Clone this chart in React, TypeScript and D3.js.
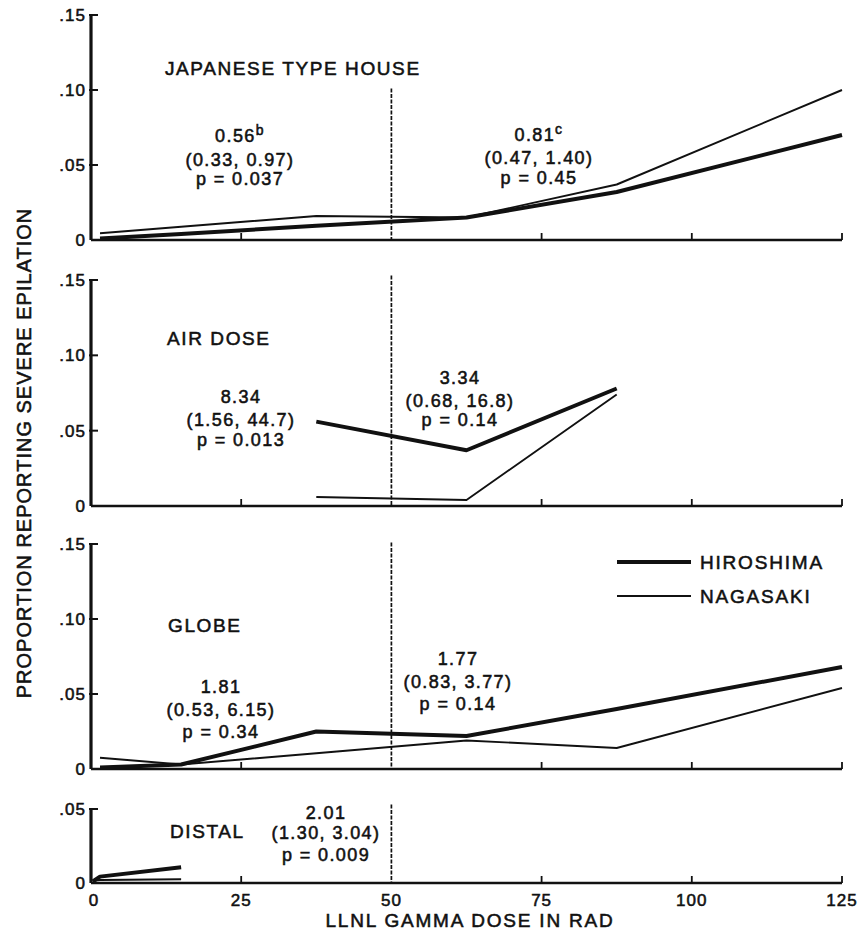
import { useEffect, useRef } from 'react';
import * as d3 from 'd3';

// dose midpoints (rad) used by the curves
const doses = [1.5, 15, 37.5, 62.5, 87.5, 125];
const airDoses = [37.5, 62.5, 87.5];
const distalDoses = [0.3, 1.5, 15];

// proportion reporting severe epilation
const houseHiroshima = [0.001, 0.004, 0.0095, 0.015, 0.032, 0.07];
const houseNagasaki = [0.0045, 0.0088, 0.016, 0.015, 0.037, 0.1];
const airHiroshima = [0.056, 0.037, 0.078];
const airNagasaki = [0.006, 0.004, 0.074];
const globeHiroshima = [0.001, 0.003, 0.025, 0.022, 0.04, 0.068];
const globeNagasaki = [0.0075, 0.003, 0.0105, 0.019, 0.014, 0.054];
const distalHiroshima = [0.001, 0.0043, 0.0106];
const distalNagasaki = [0.0015, 0.002, 0.0025];

const xTicks = [0, 25, 50, 75, 100, 125];
const yTicks = [0, 0.05, 0.1, 0.15];
const yTickLabels = ['0', '.05', '.10', '.15'];
const distalYTicks = [0, 0.05];
const distalYTickLabels = ['0', '.05'];
const cutDose = 50;

const FONT = '"Liberation Sans", Arial, Helvetica, sans-serif';
const INK = '#111';

const panels = [
  {
    title: 'JAPANESE TYPE HOUSE', titleX: 165, titleY: 75,
    xs: doses, hiro: houseHiroshima, naga: houseNagasaki,
    yMax: 0.15, top: 15, bottom: 240, dashTop: 0.101,
    ticks: yTicks, tickLabels: yTickLabels,
    notes: [
      { cx: 240, ys: [135, 159, 178], lines: ['0.56', '(0.33, 0.97)', 'p = 0.037'], sup: 'b' },
      { cx: 539, ys: [134, 157, 177], lines: ['0.81', '(0.47, 1.40)', 'p = 0.45'], sup: 'c' },
    ],
  },
  {
    title: 'AIR DOSE', titleX: 167, titleY: 345,
    xs: airDoses, hiro: airHiroshima, naga: airNagasaki,
    yMax: 0.15, top: 280, bottom: 506, dashTop: 0.153,
    ticks: yTicks, tickLabels: yTickLabels,
    notes: [
      { cx: 241, ys: [396, 419, 439], lines: ['8.34', '(1.56, 44.7)', 'p = 0.013'] },
      { cx: 460, ys: [377, 400, 419], lines: ['3.34', '(0.68, 16.8)', 'p = 0.14'] },
    ],
  },
  {
    title: 'GLOBE', titleX: 168, titleY: 632,
    xs: doses, hiro: globeHiroshima, naga: globeNagasaki,
    yMax: 0.15, top: 544, bottom: 769, dashTop: 0.151,
    ticks: yTicks, tickLabels: yTickLabels,
    notes: [
      { cx: 221, ys: [686, 709, 731], lines: ['1.81', '(0.53, 6.15)', 'p = 0.34'] },
      { cx: 458, ys: [658, 681, 703], lines: ['1.77', '(0.83, 3.77)', 'p = 0.14'] },
    ],
  },
  {
    title: 'DISTAL', titleX: 170, titleY: 838,
    xs: distalDoses, hiro: distalHiroshima, naga: distalNagasaki,
    yMax: 0.05, top: 809, bottom: 883, dashTop: 0.053,
    ticks: distalYTicks, tickLabels: distalYTickLabels,
    notes: [
      { cx: 326, ys: [812, 832, 854], lines: ['2.01', '(1.30, 3.04)', 'p = 0.009'] },
    ],
  },
];

const App = () => {
  const svgRef = useRef(null);

  useEffect(() => {
    const svg = d3.select(svgRef.current);
    svg.selectAll('*').remove();

    const x = d3.scaleLinear().domain([0, 125]).range([91, 842]);

    panels.forEach((p) => {
      const y = d3.scaleLinear().domain([0, p.yMax]).range([p.bottom, p.top]);
      const g = svg.append('g');

      // y axis
      g.append('line')
        .attr('x1', x(0)).attr('x2', x(0))
        .attr('y1', y(p.yMax)).attr('y2', y(0))
        .attr('stroke', INK).attr('stroke-width', 3.2);
      g.selectAll('.ytick')
        .data(p.ticks.filter((t) => t > 0))
        .enter()
        .append('line')
        .attr('x1', x(0) - 2).attr('x2', x(0) + 7)
        .attr('y1', (d) => y(d)).attr('y2', (d) => y(d))
        .attr('stroke', INK).attr('stroke-width', 2);
      g.selectAll('.ylab')
        .data(p.ticks)
        .enter()
        .append('text')
        .attr('x', 86)
        .attr('y', (d) => y(d) + 6)
        .attr('text-anchor', 'end')
        .style('font-size', '17px')
        .style('letter-spacing', '1px')
        .text((d, i) => p.tickLabels[i]);

      // x axis
      g.append('line')
        .attr('x1', x(0)).attr('x2', x(125))
        .attr('y1', y(0)).attr('y2', y(0))
        .attr('stroke', INK).attr('stroke-width', 2.6);
      g.selectAll('.xtick')
        .data(xTicks.filter((t) => t > 0 && t !== cutDose))
        .enter()
        .append('line')
        .attr('x1', (d) => x(d)).attr('x2', (d) => x(d))
        .attr('y1', y(0)).attr('y2', y(0) - 7)
        .attr('stroke', INK).attr('stroke-width', 1.8);

      // 50 rad cut
      g.append('line')
        .attr('x1', x(cutDose)).attr('x2', x(cutDose))
        .attr('y1', y(p.dashTop)).attr('y2', y(0))
        .attr('stroke', INK).attr('stroke-width', 1.7)
        .attr('stroke-dasharray', '4,1.5');

      const line = d3.line()
        .x((d) => x(d[0]))
        .y((d) => y(d[1]));

      g.append('path')
        .datum(p.xs.map((d, i) => [d, p.naga[i]]))
        .attr('d', line)
        .attr('fill', 'none').attr('stroke', INK).attr('stroke-width', 1.9)
        .attr('stroke-linejoin', 'round');
      g.append('path')
        .datum(p.xs.map((d, i) => [d, p.hiro[i]]))
        .attr('d', line)
        .attr('fill', 'none').attr('stroke', INK).attr('stroke-width', 4)
        .attr('stroke-linejoin', 'round');

      g.append('text')
        .attr('x', p.titleX).attr('y', p.titleY)
        .style('font-size', '19px')
        .style('letter-spacing', '1.6px')
        .text(p.title);

      p.notes.forEach((n) => {
        n.lines.forEach((ln, i) => {
          const t = g.append('text')
            .attr('x', n.cx).attr('y', n.ys[i] + 6.5)
            .attr('text-anchor', 'middle')
            .style('font-size', '18px')
            .style('letter-spacing', '1.4px');
          t.append('tspan').text(ln);
          if (i === 0 && n.sup) {
            t.append('tspan')
              .attr('dy', -7)
              .style('font-size', '14px')
              .text(n.sup);
          }
        });
      });
    });

    // legend
    const legend = [
      { name: 'HIROSHIMA', w: 4, y: 562 },
      { name: 'NAGASAKI', w: 2, y: 596 },
    ];
    legend.forEach((l) => {
      svg.append('line')
        .attr('x1', 617).attr('x2', 691)
        .attr('y1', l.y).attr('y2', l.y)
        .attr('stroke', INK).attr('stroke-width', l.w);
      svg.append('text')
        .attr('x', 700).attr('y', l.y + 7)
        .style('font-size', '19px')
        .style('letter-spacing', '1.8px')
        .text(l.name);
    });

    // bottom x labels
    svg.selectAll('.xlab')
      .data(xTicks)
      .enter()
      .append('text')
      .attr('x', (d) => x(d) + (d === 0 ? 3 : 0))
      .attr('y', 906)
      .attr('text-anchor', 'middle')
      .style('font-size', '17px')
      .style('letter-spacing', '1px')
      .text((d) => d);

    svg.append('text')
      .attr('x', 470).attr('y', 927)
      .attr('text-anchor', 'middle')
      .style('font-size', '19px')
      .style('letter-spacing', '1.8px')
      .text('LLNL GAMMA DOSE IN RAD');

    svg.append('text')
      .attr('transform', 'translate(31, 453) rotate(-90)')
      .attr('text-anchor', 'middle')
      .style('font-size', '20px')
      .style('letter-spacing', '1px')
      .text('PROPORTION REPORTING SEVERE EPILATION');

    svg.selectAll('text')
      .style('font-family', FONT)
      .attr('fill', INK)
      .attr('stroke', INK)
      .attr('stroke-width', 0.55);
  }, []);

  return (
    <svg
      ref={svgRef}
      width={860}
      height={932}
      style={{ position: 'absolute', left: 0, top: 0, background: '#fff' }}
    ></svg>
  );
};

export default App;
